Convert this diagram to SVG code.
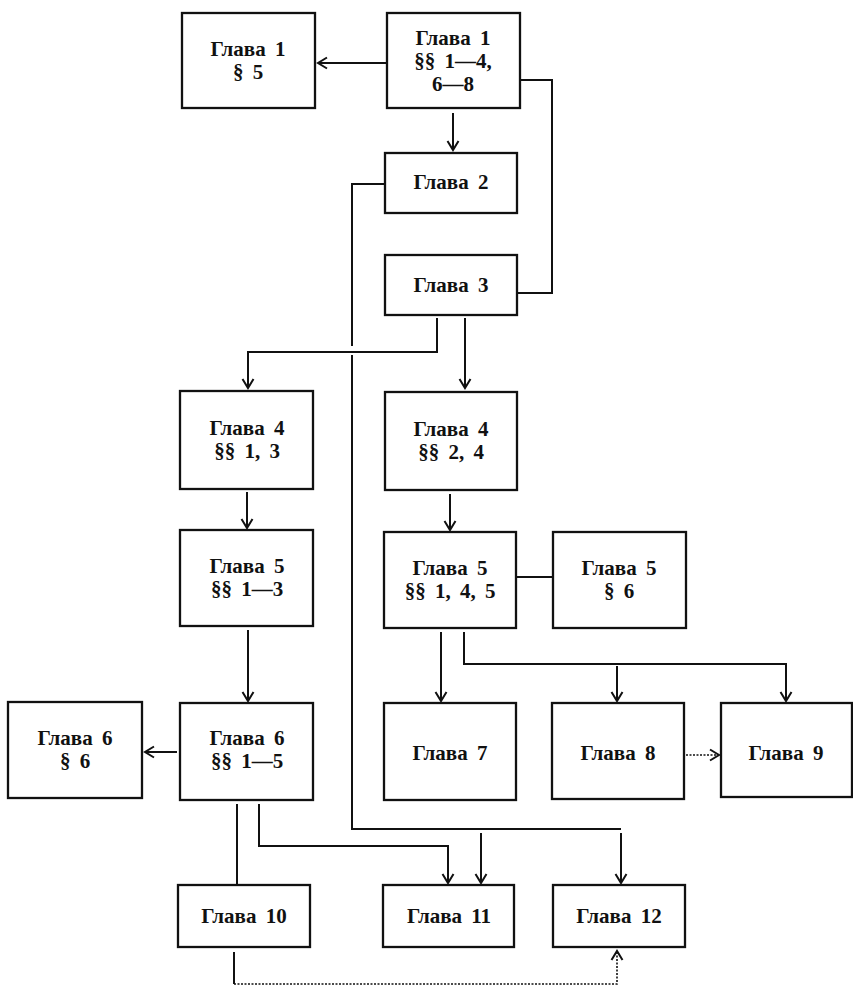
<svg xmlns="http://www.w3.org/2000/svg" width="853" height="987" viewBox="0 0 853 987">
<style>
.box{fill:#fff;stroke:#111;stroke-width:2.3}
.t{font-family:"Liberation Serif","DejaVu Serif",serif;font-weight:bold;font-size:21px;fill:#111;text-anchor:middle;word-spacing:4px}
.c{fill:none;stroke:#111;stroke-width:2}
.d{fill:none;stroke:#111;stroke-width:1.6;stroke-dasharray:2 1.5}
</style>
<defs>
<marker id="ah" markerUnits="userSpaceOnUse" markerWidth="14" markerHeight="14" viewBox="-11 -7 13 14" refX="0" refY="0" orient="auto">
<path d="M-9,-5.5 L0,0 L-9,5.5" fill="none" stroke="#111" stroke-width="2"/>
</marker>
</defs>
<rect width="853" height="987" fill="#fff"/>
<g id="connectors">
<path class="c" d="M387,63 H318" marker-end="url(#ah)"/>
<path class="c" d="M453,113 V150" marker-end="url(#ah)"/>
<path class="c" d="M520,80 H552 V293 H518"/>
<path class="c" d="M385,184 H352 V346 M352,355 V829 H621"/>
<path class="c" d="M437,318 V352 H248 V388" marker-end="url(#ah)"/>
<path class="c" d="M465,318 V388" marker-end="url(#ah)"/>
<path class="c" d="M247,492 V528" marker-end="url(#ah)"/>
<path class="c" d="M450,494 V530" marker-end="url(#ah)"/>
<path class="c" d="M517,577 H553"/>
<path class="c" d="M248,630 V701" marker-end="url(#ah)"/>
<path class="c" d="M441,632 V701" marker-end="url(#ah)"/>
<path class="c" d="M464,632 V664 H786 V701" marker-end="url(#ah)"/>
<path class="c" d="M617,666 V701" marker-end="url(#ah)"/>
<path class="d" d="M686,755 H719" marker-end="url(#ah)"/>
<path class="c" d="M177,752 H145" marker-end="url(#ah)"/>
<path class="c" d="M237,804 V884"/>
<path class="c" d="M259,804 V846 H448 V883" marker-end="url(#ah)"/>
<path class="c" d="M481,833 V883" marker-end="url(#ah)"/>
<path class="c" d="M621,833 V883" marker-end="url(#ah)"/>
<path class="c" d="M234,952 V984"/>
<path class="d" d="M234,984 H617 V951" marker-end="url(#ah)"/>
</g>
<g id="n1a"><rect class="box" x="182" y="13" width="133" height="95"/><text class="t" x="248" y="56">Глава 1</text><text class="t" x="248" y="79">§ 5</text></g>
<g id="n1"><rect class="box" x="387" y="13" width="133" height="95"/><text class="t" x="453" y="45">Глава 1</text><text class="t" x="453" y="68">§§ 1—4,</text><text class="t" x="453" y="91">6—8</text></g>
<g id="n2"><rect class="box" x="385" y="153" width="132" height="60"/><text class="t" x="451" y="189">Глава 2</text></g>
<g id="n3"><rect class="box" x="385" y="255" width="132" height="60"/><text class="t" x="451" y="292">Глава 3</text></g>
<g id="n4a"><rect class="box" x="180" y="391" width="133" height="98"/><text class="t" x="247" y="435">Глава 4</text><text class="t" x="247" y="458">§§ 1, 3</text></g>
<g id="n4b"><rect class="box" x="385" y="392" width="132" height="98"/><text class="t" x="451" y="436">Глава 4</text><text class="t" x="451" y="459">§§ 2, 4</text></g>
<g id="n5a"><rect class="box" x="180" y="530" width="133" height="96"/><text class="t" x="247" y="573">Глава 5</text><text class="t" x="247" y="596">§§ 1—3</text></g>
<g id="n5b"><rect class="box" x="384" y="532" width="132" height="96"/><text class="t" x="450" y="575">Глава 5</text><text class="t" x="450" y="598">§§ 1, 4, 5</text></g>
<g id="n5c"><rect class="box" x="553" y="532" width="133" height="96"/><text class="t" x="619" y="575">Глава 5</text><text class="t" x="619" y="598">§ 6</text></g>
<g id="n6a"><rect class="box" x="8" y="702" width="134" height="96"/><text class="t" x="75" y="745">Глава 6</text><text class="t" x="75" y="768">§ 6</text></g>
<g id="n6b"><rect class="box" x="180" y="703" width="133" height="97"/><text class="t" x="247" y="745">Глава 6</text><text class="t" x="247" y="768">§§ 1—5</text></g>
<g id="n7"><rect class="box" x="384" y="703" width="132" height="97"/><text class="t" x="450" y="760">Глава 7</text></g>
<g id="n8"><rect class="box" x="552" y="703" width="132" height="96"/><text class="t" x="618" y="760">Глава 8</text></g>
<g id="n9"><rect class="box" x="721" y="703" width="131" height="94"/><text class="t" x="786" y="760">Глава 9</text></g>
<g id="n10"><rect class="box" x="178" y="885" width="132" height="62"/><text class="t" x="244" y="923">Глава 10</text></g>
<g id="n11"><rect class="box" x="383" y="885" width="131" height="62"/><text class="t" x="449" y="923">Глава 11</text></g>
<g id="n12"><rect class="box" x="553" y="885" width="132" height="62"/><text class="t" x="619" y="923">Глава 12</text></g>
</svg>
